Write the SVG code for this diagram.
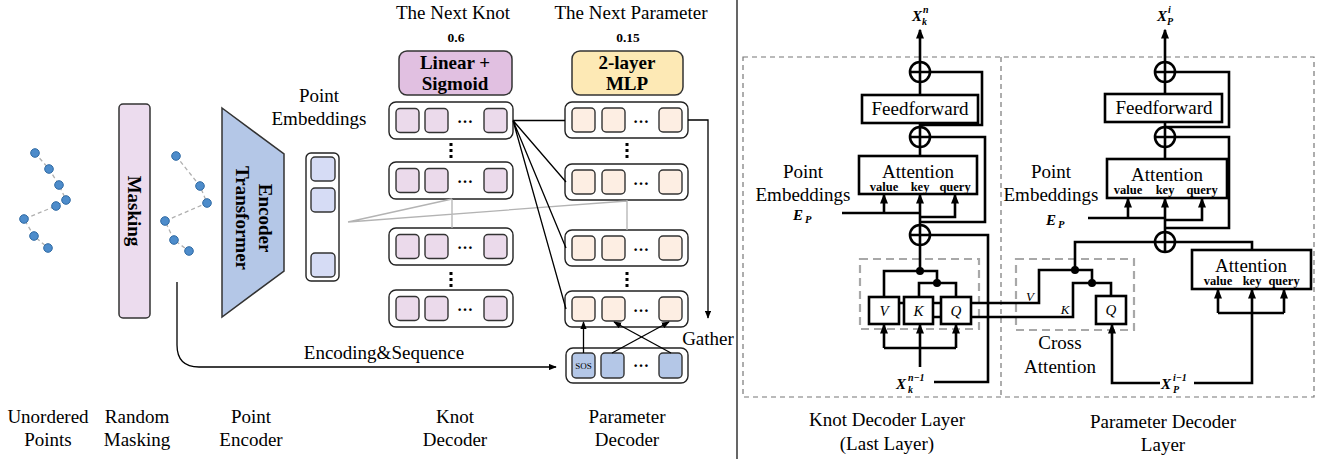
<svg xmlns="http://www.w3.org/2000/svg" width="1330" height="459" viewBox="0 0 1330 459">
<defs>
<style>
text{font-family:"Liberation Serif","Times New Roman",serif;fill:#000}
.lbl{font-size:19px;text-anchor:middle}
.b{font-weight:bold}
.m{font-weight:bold;font-style:italic}
.it{font-style:italic;text-anchor:middle}
.thin{stroke:#000;stroke-width:1.3;fill:none}
.thick{stroke:#000;stroke-width:2.6;fill:none}
.gray{stroke:#b3b3b3;stroke-width:1.3;fill:none}
.pdash{stroke:#b0b0b0;stroke-width:1.3;fill:none;stroke-dasharray:4,3}
.dot{fill:#4d8ccb;stroke:#2f6aa3;stroke-width:1}
.row{fill:#fff;stroke:#222;stroke-width:1.4}
.sk{fill:#ebdaeb;stroke:#333;stroke-width:1.4}
.sp{fill:#fdeee3;stroke:#333;stroke-width:1.4}
.ss{fill:#b4c7e7;stroke:#333;stroke-width:1.4}
.se{fill:#d6dcf5;stroke:#333;stroke-width:1.4}
.box{fill:#fff;stroke:#000;stroke-width:2.6}
.gbox{fill:none;stroke:#a8a8a8;stroke-width:2.2;stroke-dasharray:8,5}
.outer{fill:none;stroke:#777;stroke-width:1.2;stroke-dasharray:5,4}
.vd{fill:#000}
.ell{font-size:16px;font-weight:bold;text-anchor:middle}
.vkq{font-size:12.5px;font-weight:bold;text-anchor:middle}
</style>
<marker id="ah" viewBox="0 0 10 8" refX="9" refY="4" markerWidth="8" markerHeight="6.5" markerUnits="userSpaceOnUse" orient="auto"><path d="M0,0 L10,4 L0,8 z" fill="#000"/></marker>
<marker id="ahb" viewBox="0 0 10 8" refX="8.5" refY="4" markerWidth="10" markerHeight="8.5" markerUnits="userSpaceOnUse" orient="auto"><path d="M0,0 L10,4 L0,8 z" fill="#000"/></marker>
</defs>
<rect width="1330" height="459" fill="#fff"/>

<!-- divider -->
<line x1="737" y1="0" x2="737" y2="459" stroke="#000" stroke-width="1.2"/>

<g id="unordered-points">
<polyline class="pdash" points="35,153 49,169 59,185 66,200 56,206 24,219 34,236 48,248"/>
<circle class="dot" cx="35" cy="153" r="4.3"/><circle class="dot" cx="49" cy="169" r="4.3"/><circle class="dot" cx="59" cy="185" r="4.3"/><circle class="dot" cx="66" cy="200" r="4.3"/><circle class="dot" cx="56" cy="206" r="4.3"/><circle class="dot" cx="24" cy="219" r="4.3"/><circle class="dot" cx="34" cy="236" r="4.3"/><circle class="dot" cx="48" cy="248" r="4.3"/>
</g>

<g id="masking">
<rect x="119" y="104" width="31" height="214" rx="4" fill="#ecdcee" stroke="#333" stroke-width="1.5"/>
<text class="b" font-size="19" text-anchor="middle" transform="translate(134,211) rotate(90)" dy="6">Masking</text>
</g>

<g id="masked-points">
<polyline class="pdash" points="176,156 200,186 207,203 165,221 174,240 189,251"/>
<circle class="dot" cx="176" cy="156" r="4.3"/><circle class="dot" cx="200" cy="186" r="4.3"/><circle class="dot" cx="207" cy="203" r="4.3"/><circle class="dot" cx="165" cy="221" r="4.3"/><circle class="dot" cx="174" cy="240" r="4.3"/><circle class="dot" cx="189" cy="251" r="4.3"/>
</g>

<g id="encoder">
<polygon points="222,108 284,154 284,271 222,317" fill="#b4c7e7" stroke="#333" stroke-width="1.5"/>
<text class="b" font-size="19" text-anchor="middle" transform="translate(265,218) rotate(90)" dy="6">Encoder</text>
<text class="b" font-size="19" text-anchor="middle" transform="translate(242,218) rotate(90)" dy="6">Transformer</text>
</g>

<g id="point-embeddings">
<text class="lbl" x="319" y="102">Point</text>
<text class="lbl" x="319" y="125">Embeddings</text>
<rect x="306" y="153" width="33" height="128" rx="5" class="row" stroke-width="1.5"/>
<rect x="311" y="157" width="24" height="24" rx="4" class="se"/>
<rect x="311" y="188" width="24" height="24" rx="4" class="se"/>
<rect x="311" y="253" width="24" height="24" rx="4" class="se"/>
</g>

<g id="knot-head">
<text class="lbl" x="453" y="19">The Next Knot</text>
<text class="b" font-size="13.5" text-anchor="middle" x="456" y="42">0.6</text>
<rect x="399" y="51" width="113" height="44" rx="8" fill="#e1c0e1" stroke="#333" stroke-width="1.5"/>
<text class="b lbl" x="455" y="69">Linear +</text>
<text class="b lbl" x="455" y="90">Sigmoid</text>
</g>

<g id="param-head">
<text class="lbl" x="631" y="19">The Next Parameter</text>
<text class="b" font-size="13.5" text-anchor="middle" x="628" y="42">0.15</text>
<rect x="572" y="51" width="111" height="44" rx="8" fill="#fde9b5" stroke="#333" stroke-width="1.5"/>
<text class="b lbl" x="627" y="69">2-layer</text>
<text class="b lbl" x="627" y="90">MLP</text>
</g>

<g id="knot-decoder">
<rect x="389" y="102" width="124" height="37" rx="7" class="row"/>
<rect x="396" y="108.5" width="23" height="24" rx="4" class="sk"/><rect x="425" y="108.5" width="23" height="24" rx="4" class="sk"/><rect x="484" y="108.5" width="23" height="24" rx="4" class="sk"/>
<text class="ell" x="465" y="123">…</text>
<rect x="449.5" y="143" width="3" height="3" class="vd"/><rect x="449.5" y="149" width="3" height="3" class="vd"/><rect x="449.5" y="155" width="3" height="3" class="vd"/>
<rect x="389" y="162" width="124" height="37" rx="7" class="row"/>
<rect x="396" y="168.5" width="23" height="24" rx="4" class="sk"/><rect x="425" y="168.5" width="23" height="24" rx="4" class="sk"/><rect x="484" y="168.5" width="23" height="24" rx="4" class="sk"/>
<text class="ell" x="465" y="183">…</text>
<rect x="389" y="228" width="124" height="37" rx="7" class="row"/>
<rect x="396" y="234.5" width="23" height="24" rx="4" class="sk"/><rect x="425" y="234.5" width="23" height="24" rx="4" class="sk"/><rect x="484" y="234.5" width="23" height="24" rx="4" class="sk"/>
<text class="ell" x="465" y="249">…</text>
<rect x="449.5" y="272" width="3" height="3" class="vd"/><rect x="449.5" y="278" width="3" height="3" class="vd"/><rect x="449.5" y="284" width="3" height="3" class="vd"/>
<rect x="389" y="290" width="124" height="37" rx="7" class="row"/>
<rect x="396" y="296.5" width="23" height="24" rx="4" class="sk"/><rect x="425" y="296.5" width="23" height="24" rx="4" class="sk"/><rect x="484" y="296.5" width="23" height="24" rx="4" class="sk"/>
<text class="ell" x="465" y="311">…</text>
</g>

<g id="param-decoder">
<rect x="565" y="102" width="123" height="36" rx="7" class="row"/>
<rect x="572" y="108" width="23" height="24" rx="4" class="sp"/><rect x="602" y="108" width="23" height="24" rx="4" class="sp"/><rect x="659" y="108" width="23" height="24" rx="4" class="sp"/>
<text class="ell" x="641" y="122.5">…</text>
<rect x="625.5" y="143" width="3" height="3" class="vd"/><rect x="625.5" y="149" width="3" height="3" class="vd"/><rect x="625.5" y="155" width="3" height="3" class="vd"/>
<rect x="565" y="164" width="123" height="36" rx="7" class="row"/>
<rect x="572" y="170" width="23" height="24" rx="4" class="sp"/><rect x="602" y="170" width="23" height="24" rx="4" class="sp"/><rect x="659" y="170" width="23" height="24" rx="4" class="sp"/>
<text class="ell" x="641" y="184.5">…</text>
<rect x="565" y="230" width="123" height="36" rx="7" class="row"/>
<rect x="572" y="236" width="23" height="24" rx="4" class="sp"/><rect x="602" y="236" width="23" height="24" rx="4" class="sp"/><rect x="659" y="236" width="23" height="24" rx="4" class="sp"/>
<text class="ell" x="641" y="250.5">…</text>
<rect x="625.5" y="272" width="3" height="3" class="vd"/><rect x="625.5" y="278" width="3" height="3" class="vd"/><rect x="625.5" y="284" width="3" height="3" class="vd"/>
<rect x="565" y="291" width="123" height="36" rx="7" class="row"/>
<rect x="572" y="297" width="23" height="24" rx="4" class="sp"/><rect x="602" y="297" width="23" height="24" rx="4" class="sp"/><rect x="659" y="297" width="23" height="24" rx="4" class="sp"/>
<text class="ell" x="641" y="311.5">…</text>
</g>

<g id="sos-sequence">
<rect x="566" y="348" width="122" height="35" rx="7" class="row"/>
<rect x="572" y="353" width="23" height="25" rx="4" class="ss"/><rect x="601" y="353" width="23" height="25" rx="4" class="ss"/><rect x="659" y="353" width="23" height="25" rx="4" class="ss"/>
<text x="583.5" y="369" font-size="9" text-anchor="middle">SOS</text>
<text class="ell" x="641" y="367">…</text>
</g>

<g id="left-labels">
<text class="lbl" x="384" y="359">Encoding&amp;Sequence</text>
<text class="lbl" x="708" y="345">Gather</text>
<text class="lbl" x="48" y="423">Unordered</text><text class="lbl" x="48" y="446">Points</text>
<text class="lbl" x="137" y="423">Random</text><text class="lbl" x="137" y="446">Masking</text>
<text class="lbl" x="251" y="423">Point</text><text class="lbl" x="251" y="446">Encoder</text>
<text class="lbl" x="455" y="423">Knot</text><text class="lbl" x="455" y="446">Decoder</text>
<text class="lbl" x="627" y="423">Parameter</text><text class="lbl" x="627" y="446">Decoder</text>
</g>

<!-- ================= RIGHT PANEL ================= -->
<g id="layer-frames">
<rect x="743" y="57" width="571" height="340" class="outer"/>
<line x1="1001" y1="57" x2="1001" y2="397" class="outer"/>
<rect x="860" y="259" width="119" height="70" class="gbox"/>
<rect x="1016" y="259" width="118" height="71" class="gbox"/>
</g>

<g id="connectors">
<!-- left panel -->
<path class="gray" d="M348,222 L452,199 M348,222 L627,201 M452,199 V228 M627,200 V230"/>
<path class="thin" d="M513,120.5 H565 M513,120.5 L566,182 M513,120.5 L566,248 M513,120.5 L566,309"/>
<path class="thin" d="M688,120 H708 V318" marker-end="url(#ah)"/>
<path class="thin" d="M177,282 V345 Q177,367 199,367 H556" marker-end="url(#ah)"/>
<path class="thin" d="M583.5,353 V322" marker-end="url(#ah)"/>
<path class="thin" d="M612,353 L669,322" marker-end="url(#ah)"/>
<path class="thin" d="M671,353 L614,322" marker-end="url(#ah)"/>

<!-- knot decoder layer -->
<path class="thick" d="M920,62 V30" marker-end="url(#ahb)"/>
<path class="thick" d="M920,82 V95 M920,123 V127 M920,147 V156"/>
<path class="thick" d="M930,72 H982 V125 H920"/>
<path class="thick" d="M930,137 H985 V222 H920"/>
<path class="thick" d="M842,213 H920"/>
<path class="thick" d="M884,213 V195" marker-end="url(#ahb)"/>
<path class="thick" d="M920,225 V195" marker-end="url(#ahb)"/>
<path class="thick" d="M920,217 H955 V195" marker-end="url(#ahb)"/>
<path class="thick" d="M930,235 H988 V382 H934"/>
<path class="thick" d="M920,245 V271"/>
<path class="thick" d="M884,297 V271 H937 V283"/>
<path class="thick" d="M919,297 V283 H956 V297"/>
<path class="thick" d="M899,303 H1039 V270 H1092 V283"/>
<path class="thick" d="M933,317 H1073 V283 H1111 V296"/>
<path class="thick" d="M884,348 H956"/>
<path class="thick" d="M884,348 V325" marker-end="url(#ahb)"/>
<path class="thick" d="M956,348 V325" marker-end="url(#ahb)"/>
<path class="thick" d="M920,367 V325" marker-end="url(#ahb)"/>

<!-- parameter decoder layer -->
<path class="thick" d="M1165,62 V30" marker-end="url(#ahb)"/>
<path class="thick" d="M1165,82 V94 M1165,122 V127 M1165,147 V159"/>
<path class="thick" d="M1175,72 H1229 V127 H1165"/>
<path class="thick" d="M1175,137 H1229 V228 H1165"/>
<path class="thick" d="M1088,218 H1165"/>
<path class="thick" d="M1128,218 V199" marker-end="url(#ahb)"/>
<path class="thick" d="M1165,232 V199" marker-end="url(#ahb)"/>
<path class="thick" d="M1165,220 H1202 V199" marker-end="url(#ahb)"/>
<path class="thick" d="M1075,270 V242 H1155"/>
<path class="thick" d="M1175,242 H1252 V250"/>
<path class="thick" d="M1160,383 H1112 V325" marker-end="url(#ahb)"/>
<path class="thick" d="M1194,383 H1252 V290" marker-end="url(#ahb)"/>
<path class="thick" d="M1218,313 H1284"/>
<path class="thick" d="M1218,313 V290" marker-end="url(#ahb)"/>
<path class="thick" d="M1284,313 V290" marker-end="url(#ahb)"/>
<circle cx="920" cy="271" r="4" fill="#000"/>
<circle cx="937" cy="283" r="4" fill="#000"/>
<circle cx="1075" cy="270" r="4" fill="#000"/>
<circle cx="1092" cy="283" r="4" fill="#000"/>
</g>

<g id="knot-layer">
<text class="m" font-size="15" x="912" y="21">X</text><text class="m" font-size="10" x="923" y="13">n</text><text class="m" font-size="10" x="922" y="25">k</text>
<g id="k-add1"><circle cx="920" cy="72" r="10" class="box"/><path class="thick" d="M910,72 H930 M920,62 V82"/></g>
<rect id="k-ff" x="862" y="95" width="116" height="28" class="box"/>
<text class="lbl" x="920" y="115">Feedforward</text>
<g id="k-add2"><circle cx="920" cy="137" r="10" class="box"/><path class="thick" d="M910,137 H930 M920,127 V147"/></g>
<rect id="k-att" x="859" y="156" width="118" height="38" class="box"/>
<text class="lbl" x="918" y="178">Attention</text>
<text class="vkq" x="884" y="190.5">value</text><text class="vkq" x="920" y="190.5">key</text><text class="vkq" x="955" y="190.5">query</text>
<text class="lbl" x="803" y="178">Point</text>
<text class="lbl" x="803" y="201">Embeddings</text>
<text class="m" font-size="15" x="793" y="220">E</text><text class="m" font-size="10.5" x="805" y="223">P</text>
<g id="k-add3"><circle cx="920" cy="235" r="10" class="box"/><path class="thick" d="M910,235 H930 M920,225 V245"/></g>
<rect x="869" y="297" width="30" height="27" class="box"/><text class="it" font-size="15" x="884" y="316">V</text>
<rect x="904" y="297" width="29" height="27" class="box"/><text class="it" font-size="15" x="918.5" y="316">K</text>
<rect x="941" y="297" width="30" height="27" class="box"/><text class="it" font-size="15" x="956" y="316">Q</text>
<text class="m" font-size="15" x="896" y="389">X</text><text class="m" font-size="10" x="908" y="381">n−1</text><text class="m" font-size="10" x="908" y="393">k</text>
<text class="lbl" x="887" y="426">Knot Decoder Layer</text>
<text class="lbl" x="887" y="450">(Last Layer)</text>
</g>

<g id="param-layer">
<text class="m" font-size="15" x="1157" y="21">X</text><text class="m" font-size="10" x="1168" y="13">i</text><text class="m" font-size="10" x="1167" y="25">P</text>
<g id="p-add1"><circle cx="1165" cy="72" r="10" class="box"/><path class="thick" d="M1155,72 H1175 M1165,62 V82"/></g>
<rect id="p-ff" x="1105" y="94" width="117" height="28" class="box"/>
<text class="lbl" x="1164" y="114">Feedforward</text>
<g id="p-add2"><circle cx="1165" cy="137" r="10" class="box"/><path class="thick" d="M1155,137 H1175 M1165,127 V147"/></g>
<rect id="p-att" x="1107" y="159" width="120" height="39" class="box"/>
<text class="lbl" x="1167" y="181">Attention</text>
<text class="vkq" x="1128" y="194">value</text><text class="vkq" x="1165" y="194">key</text><text class="vkq" x="1202" y="194">query</text>
<text class="lbl" x="1051" y="178">Point</text>
<text class="lbl" x="1051" y="201">Embeddings</text>
<text class="m" font-size="15" x="1046" y="225">E</text><text class="m" font-size="10.5" x="1058" y="228">P</text>
<g id="p-add3"><circle cx="1165" cy="242" r="10" class="box"/><path class="thick" d="M1155,242 H1175 M1165,232 V252"/></g>
<text class="it" font-size="13" x="1030" y="301">V</text>
<text class="it" font-size="13" x="1065" y="314">K</text>
<rect x="1096" y="296" width="30" height="28" class="box"/><text class="it" font-size="15" x="1111" y="315">Q</text>
<text class="lbl" x="1060" y="349">Cross</text>
<text class="lbl" x="1060" y="373">Attention</text>
<rect id="p-self-att" x="1192" y="250" width="119" height="39" class="box"/>
<text class="lbl" x="1251" y="272">Attention</text>
<text class="vkq" x="1218" y="285">value</text><text class="vkq" x="1252" y="285">key</text><text class="vkq" x="1284" y="285">query</text>
<text class="m" font-size="15" x="1161" y="389">X</text><text class="m" font-size="10" x="1173" y="381">i−1</text><text class="m" font-size="10" x="1173" y="393">P</text>
<text class="lbl" x="1163" y="428">Parameter Decoder</text>
<text class="lbl" x="1163" y="451">Layer</text>
</g>
</svg>
